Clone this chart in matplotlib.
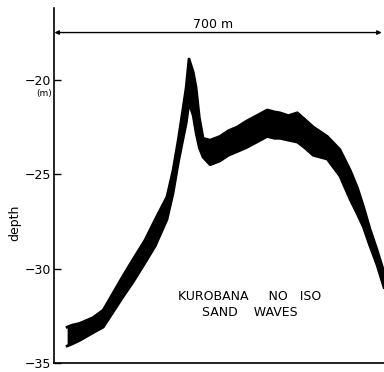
import matplotlib
matplotlib.use("Agg")
import matplotlib.pyplot as plt

# profile of the sand-wave band: distance along track (m), shallow and deep edge (m)
dist = [28, 38, 55, 83, 105, 126, 147, 169, 194, 216, 241, 254, 265, 273, 282,
        288, 297, 303, 310, 318, 333, 354, 372, 391, 410, 425, 440, 455, 470,
        482, 500, 519, 535, 553, 583, 610, 632, 647, 660, 674, 689, 704]
depth_top = [-33.1, -33.0, -32.9, -32.6, -32.2, -31.3, -30.4, -29.5, -28.5, -27.4,
             -26.2, -24.8, -23.2, -21.9, -20.4, -18.9, -19.6, -20.4, -22.0, -23.1,
             -23.2, -23.0, -22.7, -22.5, -22.2, -22.0, -21.8, -21.6, -21.7,
             -21.75, -21.9, -21.75, -22.1, -22.5, -23.0,
             -23.7, -24.8, -25.7, -26.7, -27.9, -29.0, -30.2]
depth_bot = [-34.1, -34.0, -33.8, -33.4, -33.1, -32.3, -31.5, -30.7, -29.7, -28.8,
             -27.4, -26.0, -24.4, -23.4, -22.3, -21.2, -21.9, -22.8, -23.6, -24.1,
             -24.5, -24.3, -24.0, -23.8, -23.6, -23.4, -23.2, -23.0, -23.1,
             -23.1, -23.2, -23.3, -23.6, -24.0, -24.2,
             -25.1, -26.35, -27.1, -27.8, -28.8, -29.8, -31.0]

yticks = [-20, -25, -30, -35]
yticklabels = ["\u221220", "\u221225", "\u221230", "\u221235"]
scale_len = 700

fig = plt.figure(figsize=(3.84, 3.72), dpi=100)
ax = fig.add_axes([54 / 384, 9 / 372, 330 / 384, 355 / 372])

ax.fill_between(dist, depth_top, depth_bot, color="black", lw=0)
ax.plot(dist, depth_top, color="black", lw=2.0)
ax.plot(dist, depth_bot, color="black", lw=2.0)

ax.set_xlim(0, 704)
ax.set_ylim(-35.0, -16.2)
ax.set_yticks(yticks)
ax.set_yticklabels(yticklabels, fontsize=9)
ax.set_xticks([])
ax.tick_params(axis="y", direction="in", length=5, width=1, pad=2)
for side in ["top", "right"]:
    ax.spines[side].set_visible(False)
ax.spines["left"].set_linewidth(1.2)
ax.spines["bottom"].set_linewidth(1.2)

# scale bar
ax.annotate("", xy=(scale_len - 1, -17.5), xytext=(1, -17.5),
            arrowprops=dict(arrowstyle="<|-|>", color="black", lw=1.0,
                            mutation_scale=6, shrinkA=0, shrinkB=0))
ax.text(339, -17.05, "700 m", ha="center", va="center", fontsize=9)

ax.text(-4, -20.75, "(m)", ha="right", va="center", fontsize=6.5)
fig.text(15 / 384, 1 - 223 / 372, "depth", rotation=90, ha="center", va="center",
         fontsize=9)

ax.text(418, -31.9, "KUROBANA     NO   ISO\nSAND    WAVES", ha="center", va="center",
        fontsize=9, linespacing=1.3)

fig.savefig("out.png", dpi=100)
